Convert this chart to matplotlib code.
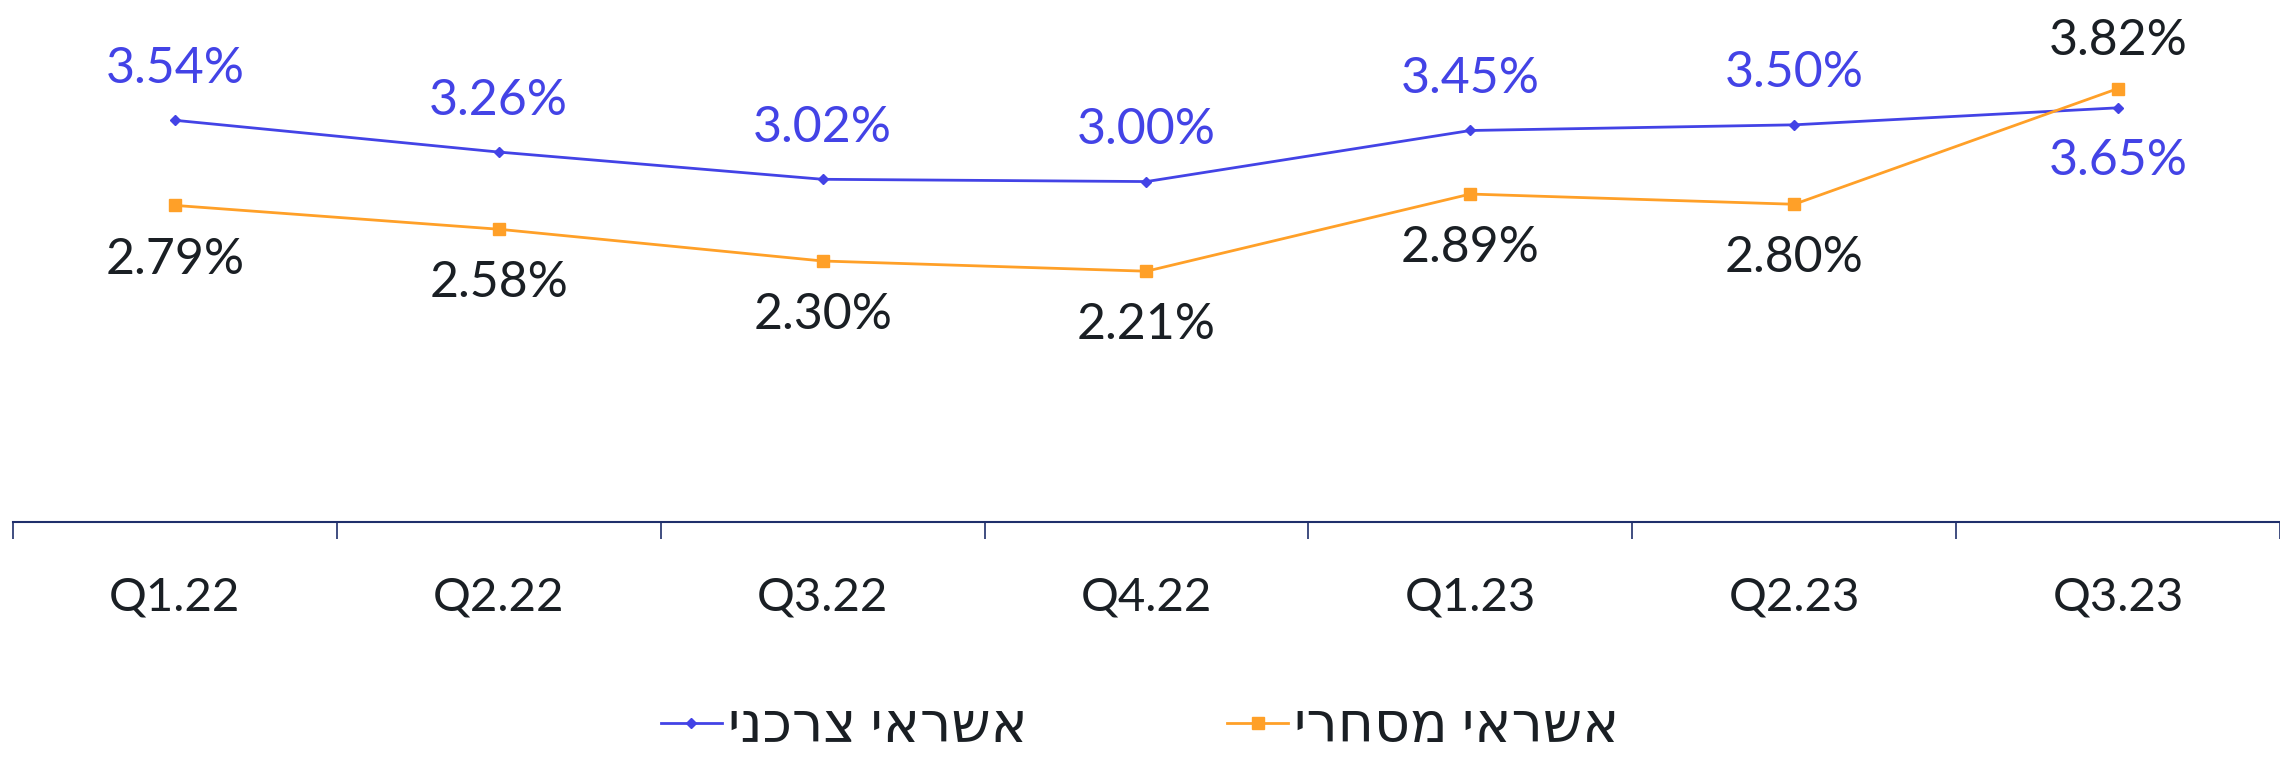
import matplotlib
matplotlib.use("Agg")
import matplotlib.pyplot as plt
import numpy as np

quarters = ["Q1.22", "Q2.22", "Q3.22", "Q4.22", "Q1.23", "Q2.23", "Q3.23"]
consumer = [3.54, 3.26, 3.02, 3.00, 3.45, 3.50, 3.65]
commercial = [2.79, 2.58, 2.30, 2.21, 2.89, 2.80, 3.82]
consumer_name = "אשראי צרכני"
commercial_name = "אשראי מסחרי"

BLUE = "#4343E6"
ORANGE = "#FFA028"
TEXT = "#1A1F24"
AXIS = "#1F2F6B"

plt.rcParams["font.family"] = ["Lato", "DejaVu Sans"]


def heb(s):
    # matplotlib has no bidi support, so flip the Hebrew for display
    return s[::-1]


fig = plt.figure(figsize=(22.8, 7.64), dpi=100)
ax = fig.add_axes([13 / 2280, 1 - 522 / 764, 1 - 13 / 2280, 522 / 764])

x = np.arange(len(quarters))
ax.plot(x, consumer, color=BLUE, lw=2, marker="D", ms=5, label=heb(consumer_name))
ax.plot(x, commercial, color=ORANGE, lw=2, marker="s", ms=8, label=heb(commercial_name))

for i, (c, m) in enumerate(zip(consumer, commercial)):
    c_above = c >= m
    ax.annotate(f"{c:.2f}%", (i, c), xytext=(0, 37 if c_above else -38), textcoords="offset points",
                ha="center", va="center", fontsize=36, color=BLUE)
    ax.annotate(f"{m:.2f}%", (i, m), xytext=(0, -39 if c_above else 34), textcoords="offset points",
                ha="center", va="center", fontsize=36, color=TEXT)

ax.set_xlim(-0.5, len(quarters) - 0.5)
ax.set_ylim(0, 4.6)
for s in ["top", "right", "left"]:
    ax.spines[s].set_visible(False)
ax.spines["bottom"].set_color(AXIS)
ax.spines["bottom"].set_linewidth(1.5)
ax.set_yticks([])

ax.set_xticks(np.arange(len(quarters) + 1) - 0.5)
ax.set_xticklabels([])
ax.tick_params(axis="x", which="major", length=12, width=1.2, color=AXIS, direction="out")
ax.set_xticks(x, minor=True)
ax.set_xticklabels(quarters, minor=True, fontsize=34, color=TEXT)
ax.tick_params(axis="x", which="minor", length=0, pad=39)

fig.legend(loc="center", bbox_to_anchor=(0.5, 1 - 727 / 764), ncols=2, frameon=False,
           fontsize=40, handlelength=1.1, columnspacing=3.6, handletextpad=0.1,
           labelcolor=TEXT)

fig.savefig("out.png", dpi=100)
